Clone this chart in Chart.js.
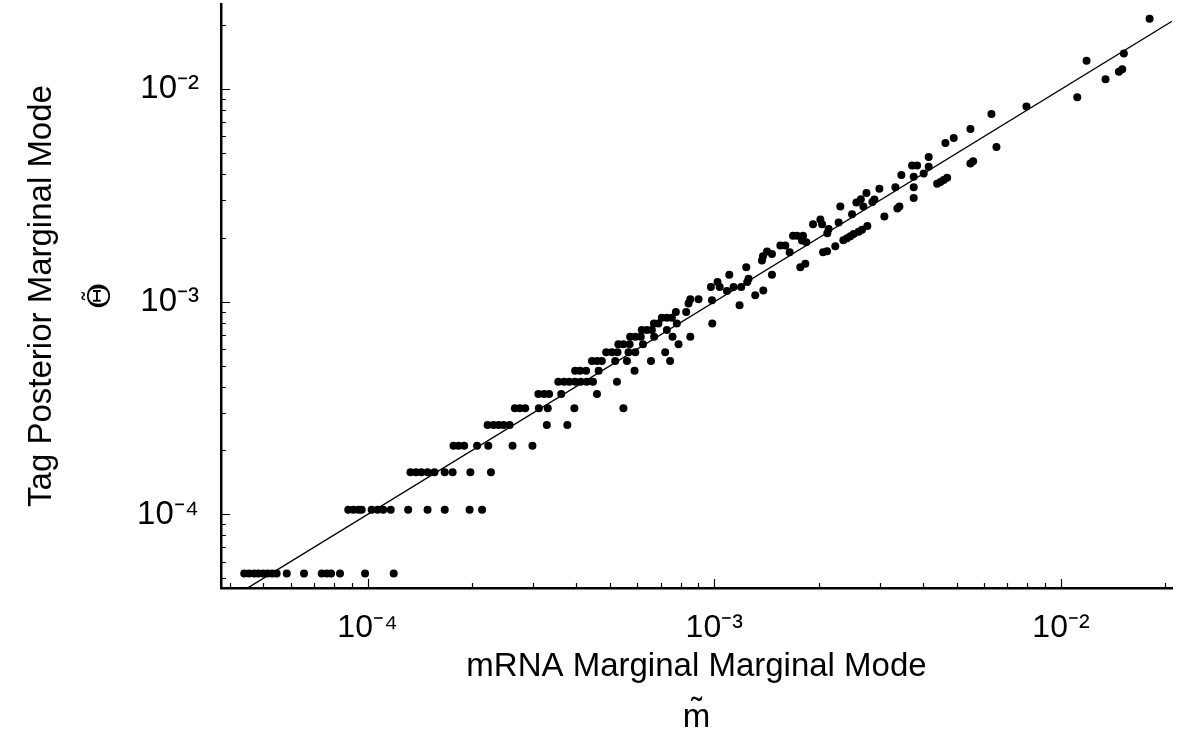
<!DOCTYPE html>
<html lang="en">
<head>
    <meta charset="UTF-8" />
    <meta name="viewport" content="width=device-width, initial-scale=1.0" />
    <script src="https://cdn.jsdelivr.net/npm/chart.js@4"></script>
    <title>Tag vs mRNA marginal mode</title>
    <style>
        body {
            margin: 0;
            background: #fff;
        }
        canvas {
            display: block;
        }
    </style>
</head>
<body>
<canvas id="myChart" width="1200" height="740"></canvas>

<script>
    // tag posterior mode of the low-count rows (the values are quantised)
    const rowTagMode = [5.27e-5, 1.054e-4, 1.581e-4, 2.108e-4, 2.635e-4, 3.162e-4, 3.689e-4, 4.216e-4,
        4.743e-4, 5.27e-4, 5.797e-4, 6.324e-4, 6.851e-4, 7.378e-4, 7.905e-4, 8.432e-4, 8.959e-4];

    // mRNA mode of the genes sitting on each of those rows
    const rowMrnaMode = [
        [4.41e-5, 4.55e-5, 4.71e-5, 4.84e-5, 5.00e-5, 5.15e-5, 5.31e-5, 5.47e-5, 5.85e-5, 6.56e-5, 7.38e-5, 7.63e-5, 7.85e-5, 8.33e-5, 9.84e-5, 1.19e-4],
        [8.80e-5, 9.10e-5, 9.41e-5, 9.62e-5, 1.028e-4, 1.07e-4, 1.11e-4, 1.167e-4, 1.31e-4, 1.49e-4, 1.67e-4, 1.97e-4, 2.14e-4],
        [1.33e-4, 1.38e-4, 1.43e-4, 1.49e-4, 1.56e-4, 1.67e-4, 1.76e-4, 1.98e-4, 2.27e-4],
        [1.77e-4, 1.83e-4, 1.90e-4, 2.07e-4, 2.23e-4, 2.62e-4, 2.99e-4],
        [2.22e-4, 2.31e-4, 2.39e-4, 2.47e-4, 2.57e-4, 3.29e-4, 3.77e-4],
        [2.66e-4, 2.75e-4, 2.85e-4, 3.12e-4, 3.31e-4, 3.95e-4, 5.47e-4],
        [3.11e-4, 3.23e-4, 3.34e-4, 3.62e-4, 4.59e-4],
        [3.55e-4, 3.69e-4, 3.82e-4, 3.97e-4, 4.12e-4, 4.29e-4, 4.47e-4, 5.24e-4],
        [3.97e-4, 4.10e-4, 4.27e-4, 4.64e-4, 5.89e-4],
        [4.44e-4, 4.59e-4, 4.74e-4, 5.18e-4, 5.60e-4, 6.57e-4, 7.46e-4],
        [4.88e-4, 5.07e-4, 5.26e-4, 5.66e-4, 5.92e-4, 7.22e-4],
        [5.29e-4, 5.47e-4, 5.70e-4, 6.23e-4, 7.89e-4],
        [5.72e-4, 5.92e-4, 6.14e-4, 6.71e-4, 7.58e-4, 8.53e-4],
        [6.18e-4, 6.39e-4, 6.61e-4, 7.30e-4],
        [6.70e-4, 6.90e-4, 7.80e-4, 9.87e-4],
        [7.06e-4, 7.30e-4, 7.55e-4],
        [7.75e-4, 8.30e-4]
    ];

    // the higher-count genes, read one by one
    const mrnaMode = [
        8.43e-4, 8.53e-4, 9.01e-4, 9.85e-4, 1.183e-3,
        9.78e-4, 1.022e-3, 1.037e-3, 1.088e-3, 1.105e-3, 1.137e-3, 1.196e-3, 1.245e-3, 1.256e-3, 1.237e-3, 1.313e-3, 1.385e-3, 1.467e-3,
        1.373e-3, 1.382e-3, 1.420e-3, 1.467e-3, 1.551e-3, 1.603e-3, 1.650e-3, 1.771e-3, 1.831e-3, 1.687e-3, 1.733e-3, 1.803e-3,
        1.791e-3, 1.843e-3, 2.060e-3, 2.115e-3, 2.234e-3, 2.357e-3, 2.415e-3, 2.469e-3, 2.523e-3, 2.609e-3, 2.668e-3, 2.764e-3,
        2.137e-3, 2.119e-3, 1.927e-3, 2.023e-3, 2.046e-3, 2.284e-3, 2.497e-3, 2.310e-3, 2.692e-3, 2.570e-3, 2.647e-3, 2.747e-3,
        2.858e-3, 2.896e-3, 3.095e-3, 3.374e-3, 3.420e-3, 3.760e-3, 2.994e-3, 3.330e-3, 3.760e-3, 4.393e-3,
        3.465e-3, 3.760e-3, 4.018e-3, 4.490e-3, 4.589e-3, 4.695e-3, 3.720e-3, 3.846e-3, 4.154e-3, 4.154e-3, 4.642e-3, 4.905e-3,
        5.481e-3, 5.580e-3, 5.481e-3, 6.301e-3, 6.515e-3, 7.950e-3, 1.114e-2, 1.185e-2, 1.344e-2, 1.469e-2, 1.502e-2, 1.518e-2, 1.801e-2
    ];
    const tagMode = [
        9.82e-4, 1.03e-3, 1.03e-3, 1.018e-3, 9.65e-4,
        1.175e-3, 1.241e-3, 1.175e-3, 1.126e-3, 1.342e-3, 1.175e-3, 1.175e-3, 1.241e-3, 1.285e-3, 1.457e-3, 1.075e-3, 1.132e-3, 1.342e-3,
        1.566e-3, 1.641e-3, 1.726e-3, 1.682e-3, 1.841e-3, 1.841e-3, 1.713e-3, 1.457e-3, 1.510e-3, 2.050e-3, 2.050e-3, 2.045e-3,
        1.943e-3, 1.908e-3, 1.713e-3, 1.731e-3, 1.827e-3, 1.949e-3, 1.991e-3, 2.034e-3, 2.085e-3, 2.140e-3, 2.186e-3, 2.273e-3,
        2.200e-3, 2.101e-3, 2.322e-3, 2.443e-3, 2.322e-3, 2.365e-3, 2.586e-3, 2.810e-3, 2.810e-3, 2.933e-3, 3.039e-3, 3.249e-3,
        2.955e-3, 3.029e-3, 2.523e-3, 2.750e-3, 2.810e-3, 3.078e-3, 3.410e-3, 3.466e-3, 3.466e-3, 3.599e-3,
        3.952e-3, 3.881e-3, 4.021e-3, 3.664e-3, 3.744e-3, 3.838e-3, 4.381e-3, 4.381e-3, 4.320e-3, 4.811e-3, 5.594e-3, 5.902e-3,
        4.477e-3, 4.593e-3, 6.505e-3, 7.665e-3, 5.358e-3, 8.303e-3, 9.176e-3, 1.362e-2, 1.114e-2, 1.210e-2, 1.244e-2, 1.473e-2, 2.147e-2
    ];

    // y = x reference line, from one end of the x axis to the other
    const diagonal = [3.78e-5, 2.09e-2];

    const decadeTicks = [1e-4, 1e-3, 1e-2];
    const decadeLabels = ['10⁻⁴', '10⁻³', '10⁻²'];

    const X_MIN = 3.78e-5, X_MAX = 2.09e-2;
    const Y_MIN = 4.51e-5, Y_MAX = 2.52e-2;
    const FONT = '"Liberation Sans", Arial, Helvetica, sans-serif';

    // build the scatter points
    const points = [];
    rowMrnaMode.forEach((row, i) => {
        row.forEach(m => points.push({x: m, y: rowTagMode[i]}));
    });
    for (let i = 0; i < mrnaMode.length; i++) {
        points.push({x: mrnaMode[i], y: tagMode[i]});
    }

    // 1..9 x 10^n ticks inside an axis range
    function logTicks(min, max) {
        const out = [];
        for (let e = -6; e <= 0; e++) {
            for (let m = 1; m <= 9; m++) {
                const v = m * Math.pow(10, e);
                if (v >= min && v <= max) out.push(v);
            }
        }
        return out;
    }
    const isDecade = v => Math.abs(Math.log10(v) - Math.round(Math.log10(v))) < 1e-6;
    const labelFor = v => {
        const i = decadeTicks.findIndex(d => Math.abs(d - v) / d < 1e-6);
        return i >= 0 ? decadeLabels[i] : '';
    };

    // ticks pointing into the plot, long on decades
    const innerTicks = {
        id: 'innerTicks',
        afterDraw(chart) {
            const {ctx, chartArea: a, scales: {x, y}} = chart;
            ctx.save();
            ctx.strokeStyle = '#000';
            ctx.lineWidth = 1.2;
            ctx.beginPath();
            x.ticks.forEach(t => {
                const px = Math.round(x.getPixelForValue(t.value)) + 0.5;
                const len = isDecade(t.value) ? 9 : 5;
                ctx.moveTo(px, a.bottom);
                ctx.lineTo(px, a.bottom - len);
            });
            y.ticks.forEach(t => {
                const py = Math.round(y.getPixelForValue(t.value)) + 0.5;
                const len = isDecade(t.value) ? 9 : 5;
                ctx.moveTo(a.left, py);
                ctx.lineTo(a.left + len, py);
            });
            ctx.stroke();

            // the theta-tilde symbol under the y title, serif like the original
            const y0 = (a.top + a.bottom) / 2;
            ctx.translate(102, y0);
            ctx.rotate(-Math.PI / 2);
            ctx.fillStyle = '#000';
            ctx.textAlign = 'center';
            ctx.textBaseline = 'middle';
            ctx.font = '32px "DejaVu Serif", "Liberation Serif", serif';
            ctx.fillText('Θ', 0, 0);
            ctx.font = '26px "DejaVu Serif", "Liberation Serif", serif';
            ctx.fillText('˜', 0, -7);
            ctx.restore();
        }
    };

    const ctx = document.getElementById('myChart').getContext('2d');

    const myChart = new Chart(ctx, {
        type: 'scatter',
        data: {
            datasets: [
                {
                    label: 'genes',
                    data: points,
                    backgroundColor: '#000',
                    borderWidth: 0,
                    pointRadius: 4,
                    pointHoverRadius: 4
                },
                {
                    label: 'y = x',
                    data: diagonal.map(v => ({x: v, y: v})),
                    showLine: true,
                    borderColor: '#000',
                    borderWidth: 1.4,
                    pointRadius: 0,
                    fill: false
                }
            ]
        },
        options: {
            responsive: false,
            animation: false,
            layout: {
                padding: {top: 0, right: 28, bottom: 0, left: 0}
            },
            plugins: {
                legend: {display: false},
                tooltip: {enabled: false}
            },
            scales: {
                x: {
                    type: 'logarithmic',
                    position: 'bottom',
                    bounds: 'data',
                    min: X_MIN,
                    max: X_MAX,
                    grid: {display: false},
                    border: {display: true, color: '#000', width: 2.5},
                    afterBuildTicks: s => { s.ticks = logTicks(X_MIN, X_MAX).map(v => ({value: v})); },
                    afterFit: s => {
                        s.height = 152;
                        s.paddingLeft = 0;
                        s.paddingRight = 0;
                    },
                    ticks: {
                        autoSkip: false,
                        maxRotation: 0,
                        padding: 13,
                        color: '#000',
                        font: {family: FONT, size: 32},
                        callback: v => labelFor(v)
                    },
                    title: {
                        display: true,
                        text: ['mRNA Marginal Marginal Mode', 'm̃'],
                        color: '#000',
                        font: {family: FONT, size: 33, lineHeight: 1.545},
                        padding: {top: 0, bottom: -3}
                    }
                },
                y: {
                    type: 'logarithmic',
                    position: 'left',
                    bounds: 'data',
                    min: Y_MIN,
                    max: Y_MAX,
                    grid: {display: false},
                    border: {display: true, color: '#000', width: 2.5},
                    afterBuildTicks: s => { s.ticks = logTicks(Y_MIN, Y_MAX).map(v => ({value: v})); },
                    afterFit: s => {
                        s.width = 221;
                        s.paddingTop = 0;
                        s.paddingBottom = 0;
                    },
                    ticks: {
                        autoSkip: false,
                        padding: 14,
                        color: '#000',
                        font: {family: FONT, size: 33},
                        callback: v => labelFor(v)
                    },
                    title: {
                        display: true,
                        text: 'Tag Posterior Marginal Mode',
                        color: '#000',
                        font: {family: FONT, size: 33},
                        padding: {top: 22, bottom: 0}
                    }
                }
            }
        },
        plugins: [innerTicks]
    });
</script>
</body>
</html>
